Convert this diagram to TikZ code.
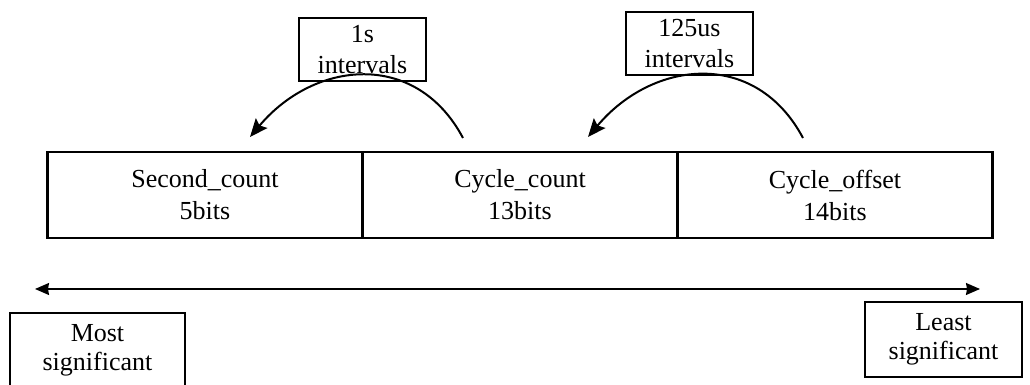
\documentclass[tikz,border=0pt]{standalone}
\usepackage{fontspec}
\setmainfont{Liberation Serif}
\usetikzlibrary{arrows.meta}
\begin{document}
\begin{tikzpicture}[x=1pt, y=1pt,
    field/.style={draw, rectangle, line width=2.2pt, minimum width=315pt, minimum height=86pt, inner sep=0pt, align=center, font=\fontsize{26}{32}\selectfont},
    note/.style={draw, rectangle, line width=1.8pt, minimum width=127pt, minimum height=63pt, inner sep=0pt, align=center, font=\fontsize{26}{31}\selectfont},
    endbox/.style={draw, rectangle, line width=1.1pt, minimum height=75pt, inner sep=0pt, align=center, font=\fontsize{26}{29}\selectfont}]
\useasboundingbox (0,0) rectangle (1030,385);
        \node(sec)[field] at (205,190){Second\_count\\5bits};
        \node(cyc)[field] at (520,190){Cycle\_count\\13bits};
        \node(off)[field] at (835,190){Cycle\_offset\\14bits};
        \node(one)[note] at (362.5,335.5){1s\\intervals};
        \node(us)[note] at (689.5,341.5){125us\\intervals};
        \node(msb)[endbox, minimum width=175pt] at (97.5,34.5){Most\\significant};
        \node(lsb)[endbox, minimum width=157pt] at (943.5,45.5){Least\\significant};
        \coordinate(a1) at (463,247);
        \coordinate(b1) at (250,248);
        \coordinate(a2) at (803,247);
        \coordinate(b2) at (588,248);
        \coordinate(left) at (35,96);
        \coordinate(right) at (980,96);
\draw[-{Stealth[length=18pt, width=15pt, inset=3pt]}, line width=2pt](a1) to[out=118, in=50, looseness=1.2](b1);
\draw[-{Stealth[length=18pt, width=15pt, inset=3pt]}, line width=2pt](a2) to[out=118, in=50, looseness=1.2](b2);
\draw[{Stealth[length=14pt, width=12pt, inset=1pt]}-{Stealth[length=14pt, width=12pt, inset=1pt]}, line width=1.4pt](left)--(right);
    \end{tikzpicture}
\end{document}
